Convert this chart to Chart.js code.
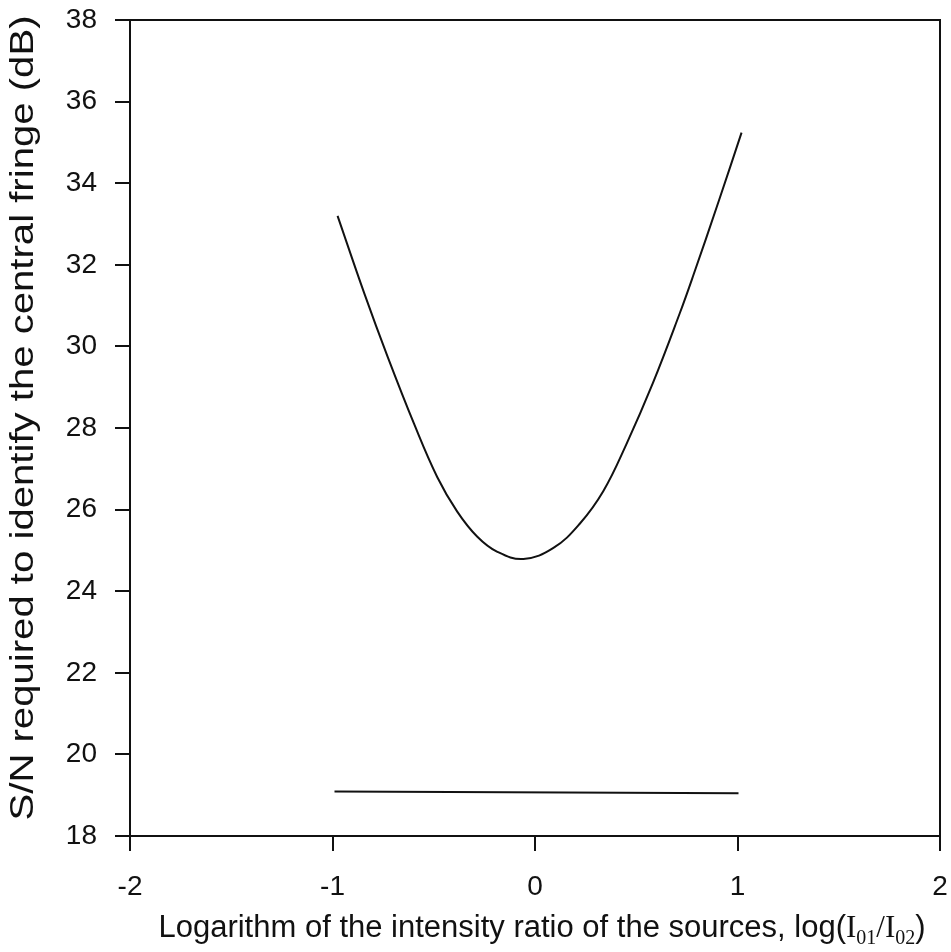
<!DOCTYPE html>
<html>
<head>
<meta charset="utf-8">
<script src="https://cdn.jsdelivr.net/npm/chart.js@4.4.0/dist/chart.umd.min.js"></script>
<style>
  html, body { margin: 0; padding: 0; background: #ffffff; }
  #wrap { width: 951px; height: 952px; }
</style>
</head>
<body>
<div id="wrap"><canvas id="c" width="951" height="952"></canvas></div>
<script>
// ---- data ----
const curveX = [-0.975, -0.843, -0.728, -0.597, -0.483, -0.384, -0.286, -0.188, -0.057, 0.091, 0.222, 0.337, 0.451, 0.582, 0.714, 0.779, 0.910, 1.020];
const curveY = [33.20, 31.30, 29.75, 28.10, 26.80, 25.95, 25.34, 24.97, 24.79, 25.06, 25.66, 26.45, 27.60, 29.10, 30.80, 31.70, 33.60, 35.24];
const baseX = [-0.99, 1.005];
const baseY = [19.09, 19.05];
const xTickLabels = ['-2', '-1', '0', '1', '2'];
const yTickLabels = ['18', '20', '22', '24', '26', '28', '30', '32', '34', '36', '38'];
// x title: main text, then log(I01/I02) with subscripts
const xTitleMain = 'Logarithm of the intensity ratio of the sources, log(';
const xTitleVar1 = 'I';
const xTitleSub1 = '01';
const xTitleSlash = '/';
const xTitleVar2 = 'I';
const xTitleSub2 = '02';
const xTitleClose = ')';
const xTitle = xTitleMain + xTitleVar1 + xTitleSub1 + xTitleSlash + xTitleVar2 + xTitleSub2 + xTitleClose;
const yTitle = 'S/N required to identify the central fringe (dB)';

const toPoints = (xs, ys) => xs.map((x, i) => ({ x: x, y: ys[i] }));

const ink = '#111111';
const sans = '"Liberation Sans", Arial, Helvetica, sans-serif';
const serif = '"Liberation Serif", "Times New Roman", Times, serif';

const frame = {
  id: 'frame',
  afterDraw(chart) {
    const { ctx, chartArea: a } = chart;
    ctx.save();
    ctx.strokeStyle = ink;
    ctx.lineWidth = 2;
    ctx.beginPath();
    ctx.moveTo(a.left, a.top);
    ctx.lineTo(a.right, a.top);
    ctx.lineTo(a.right, a.bottom);
    ctx.stroke();
    ctx.restore();
  }
};

// rich x-axis title (subscripts), drawn in place of the plain scale title
function drawRichXTitle() {
  const ctx = this.ctx;
  const parts = [
    { t: xTitleMain, font: '31px ' + sans, dy: 0 },
    { t: xTitleVar1, font: '31px ' + serif, dy: 0 },
    { t: xTitleSub1, font: '20px ' + serif, dy: 7 },
    { t: xTitleSlash, font: '31px ' + serif, dy: 0 },
    { t: xTitleVar2, font: '31px ' + serif, dy: 0 },
    { t: xTitleSub2, font: '20px ' + serif, dy: 7 },
    { t: xTitleClose, font: '31px ' + sans, dy: 0 }
  ];
  ctx.save();
  ctx.fillStyle = ink;
  ctx.textBaseline = 'alphabetic';
  ctx.textAlign = 'left';
  let total = 0;
  parts.forEach(p => { ctx.font = p.font; p.w = ctx.measureText(p.t).width; total += p.w; });
  let x = (this.left + this.right) / 2 + 7 - total / 2;
  const baseline = this.bottom - 15;
  parts.forEach(p => {
    ctx.font = p.font;
    ctx.fillText(p.t, x, baseline + p.dy);
    x += p.w;
  });
  ctx.restore();
}

// y title: sits slightly above the axis centre and is elongated along its length in the reference
function drawShiftedYTitle() {
  const ctx = this.ctx;
  const cy = (this.top + this.bottom) / 2;
  ctx.save();
  ctx.translate(0, cy - 10);
  ctx.scale(1, 1.18);
  ctx.translate(0, -cy);
  Chart.Scale.prototype.drawTitle.call(this);
  ctx.restore();
}

new Chart(document.getElementById('c'), {
  type: 'scatter',
  data: {
    datasets: [
      {
        data: toPoints(curveX, curveY),
        showLine: true,
        borderColor: ink,
        borderWidth: 2,
        pointRadius: 0,
        tension: 0.4,
        fill: false
      },
      {
        data: toPoints(baseX, baseY),
        showLine: true,
        borderColor: ink,
        borderWidth: 2,
        pointRadius: 0,
        fill: false
      }
    ]
  },
  options: {
    responsive: false,
    animation: false,
    devicePixelRatio: 1,
    layout: { padding: { top: 20, right: 11, left: 0, bottom: 0 } },
    plugins: { legend: { display: false }, tooltip: { enabled: false } },
    scales: {
      x: {
        type: 'linear',
        min: -2, max: 2,
        afterFit(s) {
          s.height = 116;
          s.paddingLeft = 0; s.paddingRight = 0; s.paddingTop = 0; s.paddingBottom = 0;
          s.drawTitle = drawRichXTitle;
        },
        afterBuildTicks(s) { s.ticks = xTickLabels.map(v => ({ value: Number(v) })); },
        ticks: {
          color: ink,
          padding: 19,
          maxRotation: 0,
          font: { family: sans, size: 28 },
          callback: (v, i) => xTickLabels[i]
        },
        grid: { drawOnChartArea: false, drawTicks: true, tickLength: 15, color: ink, lineWidth: 2 },
        border: { display: true, color: ink, width: 2 },
        title: {
          display: true,
          text: xTitle,
          color: ink,
          font: { family: sans, size: 31 },
          padding: { top: 0, bottom: 7 }
        }
      },
      y: {
        type: 'linear',
        min: 18, max: 38,
        afterFit(s) {
          s.width = 130;
          s.paddingLeft = 0; s.paddingRight = 0; s.paddingTop = 0; s.paddingBottom = 0;
          s.drawTitle = drawShiftedYTitle;
        },
        afterBuildTicks(s) { s.ticks = yTickLabels.map(v => ({ value: Number(v) })); },
        ticks: {
          color: ink,
          padding: 18,
          font: { family: sans, size: 28 },
          callback: (v, i) => yTickLabels[i]
        },
        grid: { drawOnChartArea: false, drawTicks: true, tickLength: 15, color: ink, lineWidth: 2 },
        border: { display: true, color: ink, width: 2 },
        title: {
          display: true,
          text: yTitle,
          color: ink,
          font: { family: sans, size: 34, lineHeight: 0.8 },
          padding: { top: 10, bottom: 0 }
        }
      }
    }
  },
  plugins: [frame]
});
</script>
</body>
</html>
